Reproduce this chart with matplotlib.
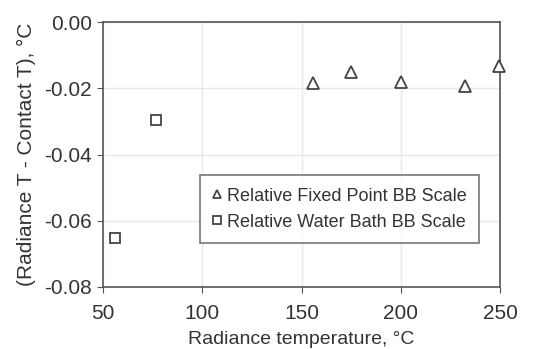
import matplotlib
matplotlib.use("Agg")
import matplotlib.pyplot as plt

fp_x = [156, 175, 200, 232.5, 249.5]
fp_y = [-0.0185, -0.0151, -0.0181, -0.0194, -0.0134]
wb_x = [56, 76.5]
wb_y = [-0.0651, -0.0296]
xticks = [50, 100, 150, 200, 250]
yticks = [0.00, -0.02, -0.04, -0.06, -0.08]

plt.rcParams['font.family'] = ['Liberation Sans', 'DejaVu Sans']
fig = plt.figure(figsize=(5.47, 3.49), dpi=100)
ax = fig.add_axes([103/547, 1-287/349, 397/547, 265/349])
ax.plot(fp_x, fp_y, linestyle='none', marker='^', markersize=9, markerfacecolor='white',
        markeredgecolor='#444444', markeredgewidth=1.3, label='Relative Fixed Point BB Scale', clip_on=False, zorder=5)
ax.plot(wb_x, wb_y, linestyle='none', marker='s', markersize=7.5, markerfacecolor='white',
        markeredgecolor='#444444', markeredgewidth=1.3, label='Relative Water Bath BB Scale', clip_on=False, zorder=5)
ax.set_xlim(50, 250)
ax.set_ylim(-0.08, 0.0)
ax.set_xticks(xticks)
ax.set_yticks(yticks)
ax.set_yticklabels([f"{v:.2f}" for v in yticks])
ax.grid(True, color='#e8e8e8', linewidth=1)
ax.set_axisbelow(True)
for s in ax.spines.values():
    s.set_color('#555555')
    s.set_linewidth(1.2)
ax.tick_params(direction='out', length=4, color='#555555', labelsize=15, labelcolor='#333333')
ax.tick_params(axis='x', pad=8)
ax.tick_params(axis='y', pad=4)
ax.set_xlabel('Radiance temperature, °C', fontsize=14, color='#333333', labelpad=6)
ax.set_ylabel('(Radiance T - Contact T), °C', fontsize=15, color='#333333', labelpad=6)
leg = ax.legend(loc='upper left', bbox_to_anchor=((200-103)/397, (287-175)/265), fontsize=13,
                frameon=True, fancybox=False, handlelength=0.5, handletextpad=0.3, markerscale=0.7,
                borderpad=0.7, labelspacing=0.5, borderaxespad=0)
leg.get_frame().set_edgecolor('#555555')
leg.get_frame().set_linewidth(1.2)
for t in leg.get_texts():
    t.set_color('#333333')
fig.savefig('out.png', dpi=100)
